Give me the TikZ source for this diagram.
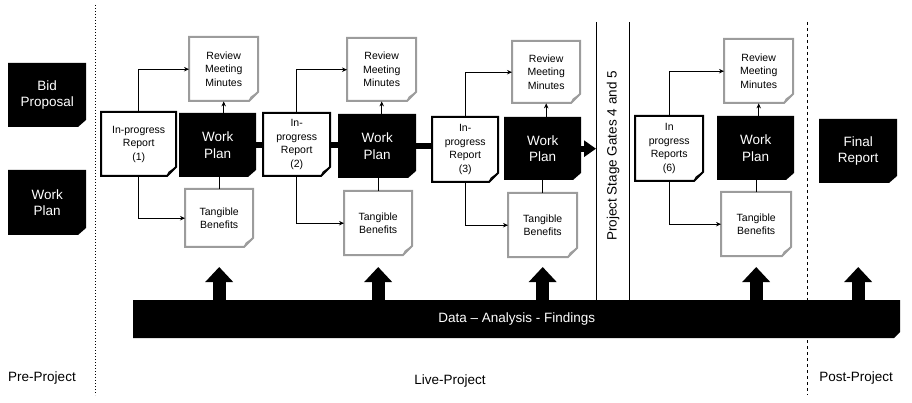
\documentclass[tikz,border=0pt]{standalone}
\usepackage{fontspec}
\setmainfont{Liberation Sans}
\usetikzlibrary{arrows.meta,calc}
\definecolor{docgray}{HTML}{9C9C9C}
\definecolor{foldgray}{HTML}{D2D2D2}

\tikzset{
  boxtext/.style={rectangle, inner sep=0pt, align=center, anchor=north west},
  plantext/.style={boxtext, text=white, font=\fontsize{13.5}{16.5}\selectfont},
  doctext/.style={boxtext, font=\fontsize{10.5}{13.5}\selectfont},
  conn/.style={line width=0.8pt, -{Stealth[length=5pt,width=4.5pt]}},
  plainconn/.style={line width=0.8pt},
  heavy/.style={line width=6pt},
  bigup/.style={line width=13pt, -{Triangle[length=15pt,width=27pt]}},
  phase/.style={font=\fontsize{13.5}{15}\selectfont},
}

% black plan box with a cut lower right corner: name, x1, y1, x2, y2, text
\newcommand\planbox[6]{%
  \fill[black] (#2,#3) -- (#4,#3) -- (#4,#5-7) -- (#4-8,#5) -- (#2,#5) -- cycle;
  \node[plantext, minimum width=#4pt-#2pt, minimum height=#5pt-#3pt] (#1) at (#2,#3) {#6};}

% document with a folded lower right corner: name, colour, x1, y1, x2, y2, text
\newcommand\docbox[7]{%
  \filldraw[fill=white, draw=#2, line width=2pt, line join=miter]
    (#3,#4) -- (#5,#4) -- (#5,#6-9) -- (#5-9,#6) -- (#3,#6) -- cycle;
  \filldraw[fill=foldgray, draw=#2, line width=0.9pt, line join=round]
    (#5,#6-9) -- (#5-7,#6-4) -- (#5-9,#6) -- cycle;
  \node[doctext, minimum width=#5pt-#3pt, minimum height=#6pt-#4pt] (#1) at (#3,#4) {#7};}

\begin{document}
\begin{tikzpicture}[x=1pt, y=-1pt]
\useasboundingbox (0,0) rectangle (912,403);

% phase separators
\draw[line width=1pt, dotted] (95,5) -- (95,395);
\draw[line width=0.7pt, dashed] (807,22) -- (807,395);

% pre-project
\planbox{bid}{8}{63}{86}{127}{Bid\\Proposal}
\planbox{wp0}{8}{170}{86}{235}{Work\\Plan}

% work plans
\planbox{wp1}{179}{113}{256}{177}{Work\\Plan}
\planbox{wp2}{338}{114}{416}{178}{Work\\Plan}
\planbox{wp3}{504}{117}{581}{180}{Work\\Plan}
\planbox{wp4}{717}{116}{794}{180}{Work\\Plan}
\planbox{final}{819}{119}{897}{183}{Final\\Report}

% progress reports
\docbox{r1}{black}{101}{112}{176}{176}{In-progress\\Report\\(1)}
\docbox{r2}{black}{263}{113}{330}{176}{In-\\progress\\Report\\(2)}
\docbox{r3}{black}{432}{117}{498}{182}{In-\\progress\\Report\\(3)}
\docbox{r6}{black}{635}{116}{703}{181}{In\\progress\\Reports\\(6)}

% review minutes
\docbox{m1}{docgray}{189}{37}{258}{101}{Review\\Meeting\\Minutes}
\docbox{m2}{docgray}{347}{38}{416}{101}{Review\\Meeting\\Minutes}
\docbox{m3}{docgray}{512}{41}{580}{103}{Review\\Meeting\\Minutes}
\docbox{m4}{docgray}{724}{39}{793}{103}{Review\\Meeting\\Minutes}

% tangible benefits
\docbox{t1}{docgray}{185}{189}{253}{247}{Tangible\\Benefits}
\docbox{t2}{docgray}{344}{191}{412}{255}{Tangible\\Benefits}
\docbox{t3}{docgray}{508}{193}{577}{257}{Tangible\\Benefits}
\docbox{t4}{docgray}{721}{192}{791}{256}{Tangible\\Benefits}

% report -> minutes / benefits, plan -> minutes / benefits
\foreach \r/\m/\t/\w in {r1/m1/t1/wp1, r2/m2/t2/wp2, r3/m3/t3/wp3, r6/m4/t4/wp4} {
  \draw[conn] (\r.north) |- (\m.west);
  \draw[conn] (\r.south) |- (\t.west);
  \draw[conn] (\m.south |- \w.north) -- (\m.south);
  \draw[plainconn] (\t.north |- \w.south) -- (\t.north);
}

% heavy chain between plans and reports
\draw[heavy] (wp1.east) -- (wp1.east -| r2.west);
\draw[heavy] (r2.east) -- (r2.east -| wp2.west);
\draw[heavy] (wp2.east) -- (wp2.east -| r3.west);

% stage gate
\coordinate (gtop) at (596,22);
\coordinate (gtop2) at (629,22);
\draw[heavy, -{Triangle[length=12pt,width=16pt]}] (wp3.east) -- (wp3.east -| gtop);
\node[rotate=90, font=\fontsize{13.5}{16}\selectfont] (gates) at (613,156) {Project Stage Gates 4 and 5};

% data bar
\fill[black] (133,300) -- (900,300) -- (900,332) -- (894,338) -- (133,338) -- cycle;
\node[boxtext, text=white, font=\fontsize{13.5}{15}\selectfont,
  minimum width=767pt, minimum height=38pt] (bar) at (133,300)
  {Data -- Analysis - Findings};
\draw[line width=0.8pt] (gtop) -- (gtop |- bar.north);
\draw[line width=0.8pt] (gtop2) -- (gtop2 |- bar.north);

\coordinate (headline) at (0,267);
\foreach \t in {t1,t2,t3,t4,final} {
  \draw[bigup] (\t.south |- bar.north) -- (\t.south |- headline);
}

% phase labels
\node[phase] (pre) at (42,378) {Pre-Project};
\node[phase] (live) at (450,381) {Live-Project};
\node[phase] (post) at (856,378) {Post-Project};
\end{tikzpicture}
\end{document}
